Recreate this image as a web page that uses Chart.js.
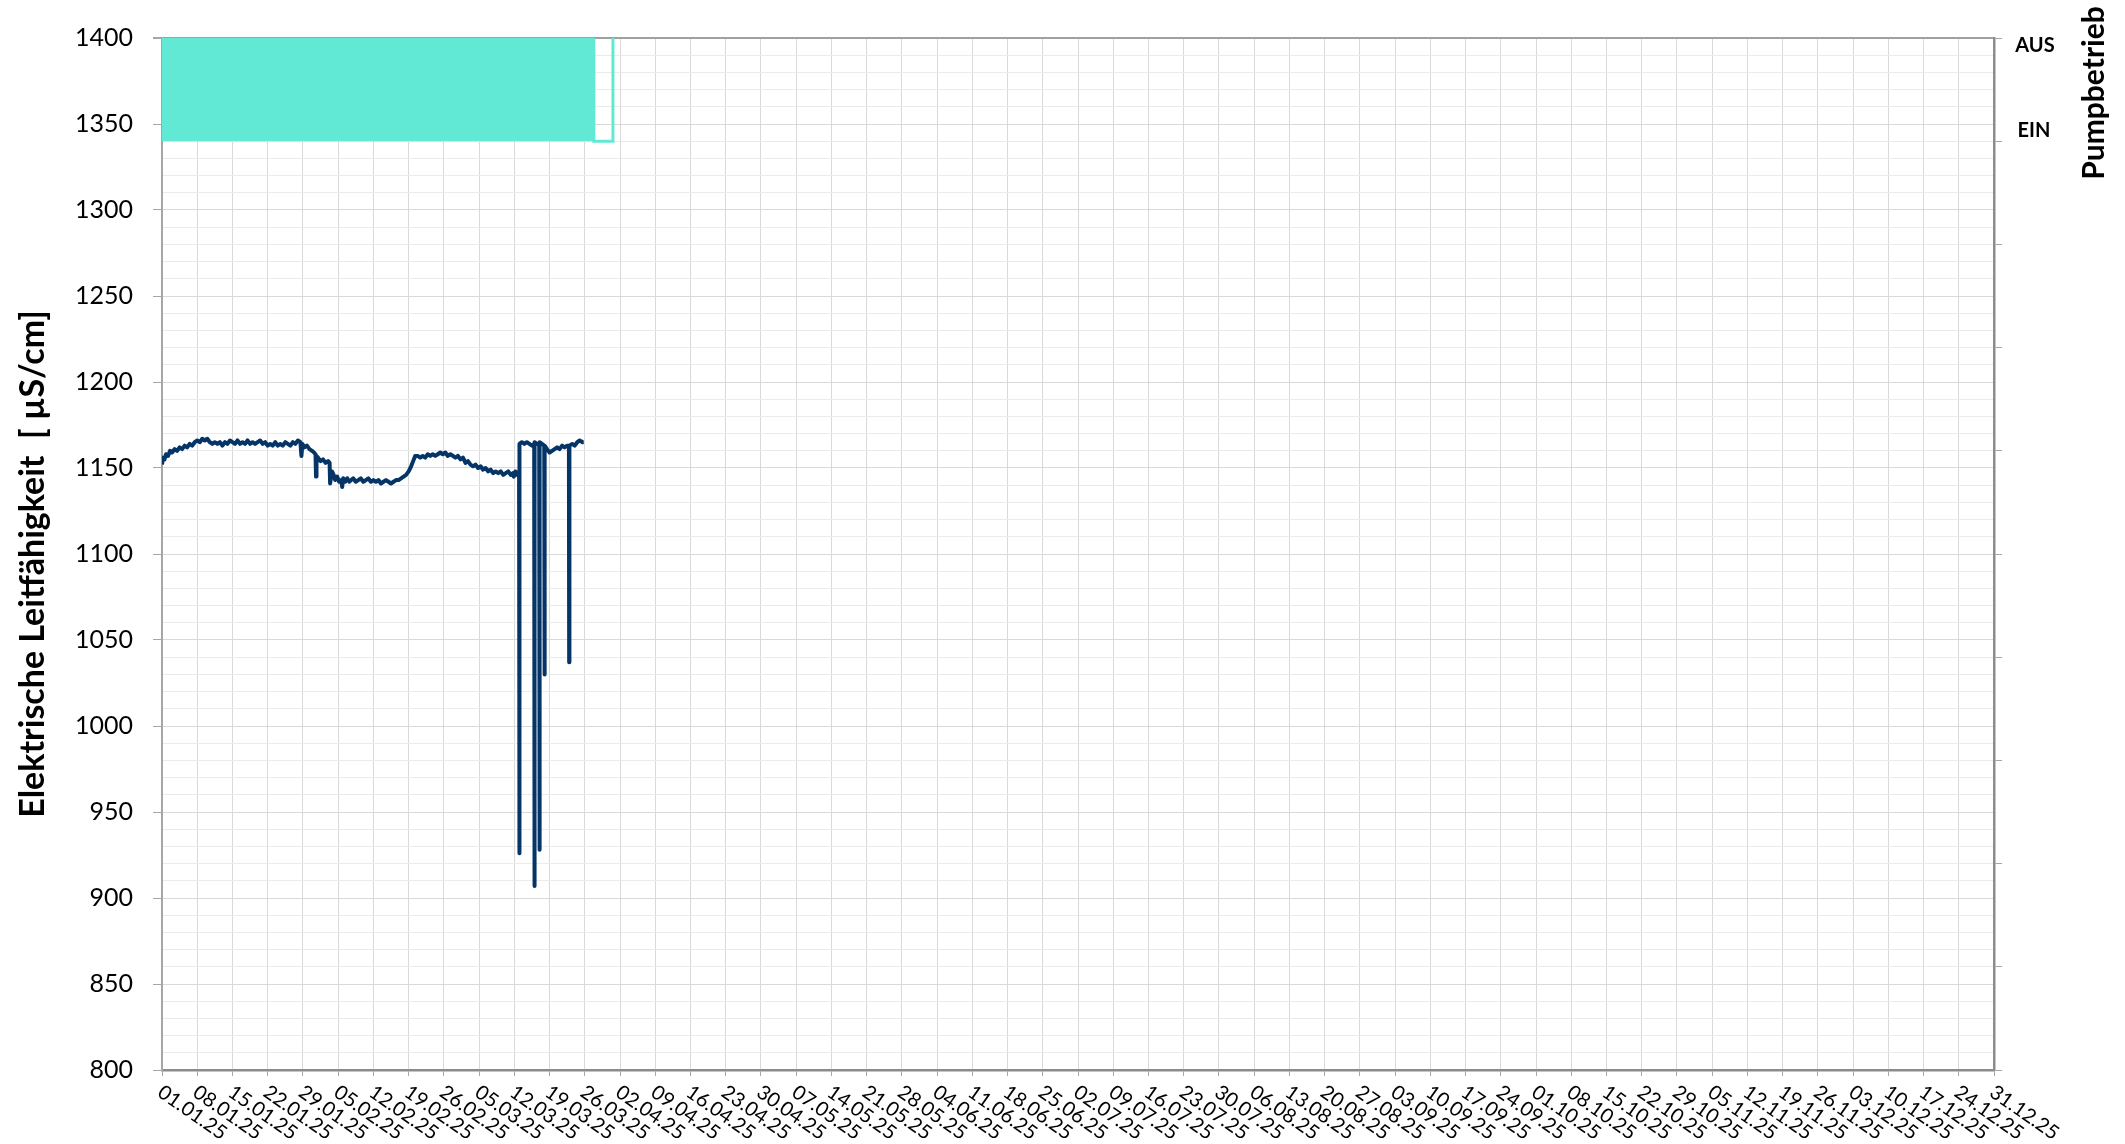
<!DOCTYPE html>
<html>
<head>
<meta charset="utf-8">
<script src="https://cdn.jsdelivr.net/npm/chart.js@4"></script>
<style>
  html, body { margin: 0; padding: 0; background: #fff; }
  #wrap { width: 2125px; height: 1144px; }
</style>
</head>
<body>
<div id="wrap"><canvas id="leitfaehigkeit"></canvas></div>
<script>
// weekly tick labels, 01.01.25 .. 31.12.25
const tickLabels = [
  "01.01.25","08.01.25","15.01.25","22.01.25","29.01.25",
  "05.02.25","12.02.25","19.02.25","26.02.25",
  "05.03.25","12.03.25","19.03.25","26.03.25",
  "02.04.25","09.04.25","16.04.25","23.04.25","30.04.25",
  "07.05.25","14.05.25","21.05.25","28.05.25",
  "04.06.25","11.06.25","18.06.25","25.06.25",
  "02.07.25","09.07.25","16.07.25","23.07.25","30.07.25",
  "06.08.25","13.08.25","20.08.25","27.08.25",
  "03.09.25","10.09.25","17.09.25","24.09.25",
  "01.10.25","08.10.25","15.10.25","22.10.25","29.10.25",
  "05.11.25","12.11.25","19.11.25","26.11.25",
  "03.12.25","10.12.25","17.12.25","24.12.25","31.12.25"
];
const tickDays = tickLabels.map((l, i) => i * 7);

// conductivity, x = days since 01.01.25
const condDays = [
  0.0,0.2,0.5,0.8,1.2,1.6,2.0,2.5,3.0,3.5,4.0,4.5,5.0,5.5,6.0,6.5,7.0,7.5,8.0,8.5,
  9.0,9.5,10.0,10.5,11.0,11.5,12.0,12.5,13.0,13.5,14.0,14.5,15.0,15.5,16.0,16.5,17.0,17.5,18.0,18.5,
  19.0,19.5,20.0,20.5,21.0,21.5,22.0,22.5,23.0,23.5,24.0,24.5,25.0,25.5,26.0,26.5,27.0,27.5,27.7,27.9,
  28.3,28.8,29.3,29.8,30.2,30.5,30.6,30.7,31.0,31.5,32.0,32.5,33.0,33.3,33.4,33.6,33.8,34.1,34.4,34.8,
  35.2,35.6,35.8,36.0,36.4,36.8,37.2,37.6,38.0,38.5,39.0,39.5,40.0,40.5,41.0,41.5,42.0,42.5,43.0,43.5,
  44.0,44.5,45.0,45.5,46.0,46.5,47.0,47.5,48.0,48.5,49.0,49.5,49.9,50.3,50.8,51.3,51.8,52.3,52.8,53.3,
  53.8,54.3,54.8,55.3,55.8,56.3,56.8,57.3,57.8,58.3,58.8,59.3,59.8,60.3,60.8,61.3,61.8,62.3,62.8,63.3,
  63.8,64.3,64.8,65.3,65.8,66.3,66.8,67.3,67.8,68.3,68.8,69.3,69.7,69.9,70.2,70.6,70.95,71.0,71.05,71.5,
  72.0,72.5,73.0,73.5,73.95,74.0,74.05,74.5,74.95,75.0,75.05,75.5,75.95,76.0,76.05,76.5,77.0,77.5,78.0,78.5,
  79.0,79.5,80.0,80.5,80.85,80.9,80.95,81.5,82.0,82.5,83.0,83.5,83.8
];
const condValues = [
  1152,1156,1155,1158,1157,1160,1159,1161,1160,1162,1161,1163,1162,1164,1163,1165,1166,1165,1167,1166,
  1167,1165,1164,1165,1164,1165,1163,1165,1164,1166,1165,1164,1166,1164,1165,1164,1166,1164,1165,1164,
  1165,1166,1164,1165,1163,1164,1163,1165,1163,1164,1163,1165,1164,1163,1165,1164,1166,1165,1157,1164,
  1162,1163,1161,1160,1159,1158,1145,1157,1156,1154,1155,1153,1154,1153,1141,1145,1148,1146,1143,1145,
  1142,1143,1139,1144,1142,1144,1142,1143,1144,1142,1143,1144,1142,1143,1144,1142,1143,1142,1143,1141,
  1142,1143,1142,1141,1142,1143,1143,1144,1145,1146,1148,1151,1154,1157,1157,1156,1157,1156,1158,1157,
  1158,1157,1158,1159,1158,1159,1157,1158,1157,1156,1157,1155,1156,1153,1154,1152,1151,1152,1150,1151,
  1149,1150,1148,1149,1147,1148,1147,1148,1146,1147,1148,1146,1147,1145,1148,1146,1148,926,1164,1165,
  1164,1165,1164,1163,1164,907,1165,1164,1164,928,1165,1164,1163,1030,1163,1161,1159,1160,1161,1162,
  1161,1163,1162,1163,1163,1037,1163,1164,1163,1165,1166,1165,1165
];

// pump state (1 = AUS, 0 = EIN)
const pumpDays = [0, 85.8, 85.8, 89.6, 89.6];
const pumpValues = [1, 1, 0, 0, 1];
const pumpStateLabels = ["EIN", "AUS"];

const FONT = "Lato, 'Open Sans', sans-serif";

const toPoints = (xs, ys) => xs.map((x, i) => ({x: x, y: ys[i]}));

const extraText = {
  id: "extraText",
  afterDraw(chart) {
    const ctx = chart.ctx;
    const xs = chart.scales.x;
    const y2 = chart.scales.y2;
    const area = chart.chartArea;
    ctx.save();
    ctx.fillStyle = "#000";
    // rotated date labels
    ctx.font = "20px " + FONT;
    ctx.textAlign = "left";
    ctx.textBaseline = "middle";
    tickLabels.forEach(function(label, i){
      let px = xs.getPixelForValue(tickDays[i]);
      ctx.save();
      ctx.translate(px - 2, area.bottom + 20);
      ctx.rotate(35 * Math.PI / 180);
      ctx.fillText(label, 0, 0);
      ctx.restore();
    });
    // pump state labels
    ctx.font = "bold 20px " + FONT;
    ctx.textAlign = "center";
    ctx.fillText(pumpStateLabels[1], 2035, y2.getPixelForValue(0.93));
    ctx.fillText(pumpStateLabels[0], 2034, y2.getPixelForValue(0.1));
    // left axis title
    ctx.save();
    ctx.font = "bold 34px " + FONT;
    ctx.translate(33, (area.top + area.bottom) / 2 + 10);
    ctx.rotate(-Math.PI / 2);
    ctx.fillText("Elektrische Leitfähigkeit  [ µS/cm]", 0, 0);
    ctx.restore();
    // right axis title
    ctx.font = "bold 30px " + FONT;
    ctx.translate(2094, 93);
    ctx.rotate(-Math.PI / 2);
    ctx.fillText("Pumpbetrieb", 0, 0);
    ctx.restore();
  }
};

new Chart(document.getElementById("leitfaehigkeit"), {
  type: "line",
  data: {
    datasets: [
      {
        label: "Leitfähigkeit",
        data: toPoints(condDays, condValues),
        yAxisID: "y",
        borderColor: "#053466",
        borderWidth: 4,
        borderJoinStyle: "round",
        pointRadius: 0,
        tension: 0,
        fill: false,
        order: 1
      },
      {
        label: "Pumpbetrieb",
        data: toPoints(pumpDays, pumpValues),
        yAxisID: "y2",
        borderColor: "#61E9D6",
        backgroundColor: "#61E9D6",
        borderWidth: 3,
        pointRadius: 0,
        tension: 0,
        fill: {value: 0},
        order: 2
      }
    ]
  },
  options: {
    responsive: true,
    maintainAspectRatio: false,
    devicePixelRatio: 1,
    animation: false,
    layout: { padding: { top: 38, left: 0, right: 0, bottom: 0 } },
    plugins: {
      legend: { display: false },
      tooltip: { enabled: false }
    },
    scales: {
      x: {
        type: "linear",
        min: 0,
        max: 364,
        afterBuildTicks: s => { s.ticks = tickDays.map(v => ({value: v})); },
        afterFit: s => { s.height = 74; },
        ticks: { display: false, autoSkip: false },
        grid: { color: "#d9d9d9", lineWidth: 1, tickLength: 6, tickColor: "#a6a6a6" },
        border: { color: "#8c8c8c", width: 2.5 }
      },
      y: {
        position: "left",
        min: 800,
        max: 1400,
        afterBuildTicks: s => {
          let t = [];
          for (let v = 800; v <= 1400; v += 10) t.push({value: v});
          s.ticks = t;
        },
        afterFit: s => { s.width = 162; },
        ticks: {
          autoSkip: false,
          padding: 20,
          color: "#000",
          font: { family: FONT, size: 25 },
          callback: v => (v % 50 === 0 ? v : "")
        },
        grid: {
          color: c => c.tick.value === 1400 ? "#a0a0a0" : (c.tick.value % 50 === 0 ? "#d9d9d9" : "#ebebeb"),
          lineWidth: c => c.tick.value === 1400 ? 2 : 1,
          tickColor: c => c.tick.value % 50 === 0 ? "#a6a6a6" : "rgba(0,0,0,0)",
          tickLength: 9
        },
        border: { color: "#a6a6a6", width: 2 }
      },
      y2: {
        position: "right",
        min: -9,
        max: 1,
        afterBuildTicks: s => {
          let t = [];
          for (let v = -9; v <= 1; v++) t.push({value: v});
          s.ticks = t;
        },
        afterFit: s => { s.width = 131; },
        ticks: { display: false },
        grid: { drawOnChartArea: false, tickLength: 8, tickColor: "#a6a6a6" },
        border: { color: "#8c8c8c", width: 2.5 }
      }
    }
  },
  plugins: [extraText]
});
</script>
</body>
</html>
